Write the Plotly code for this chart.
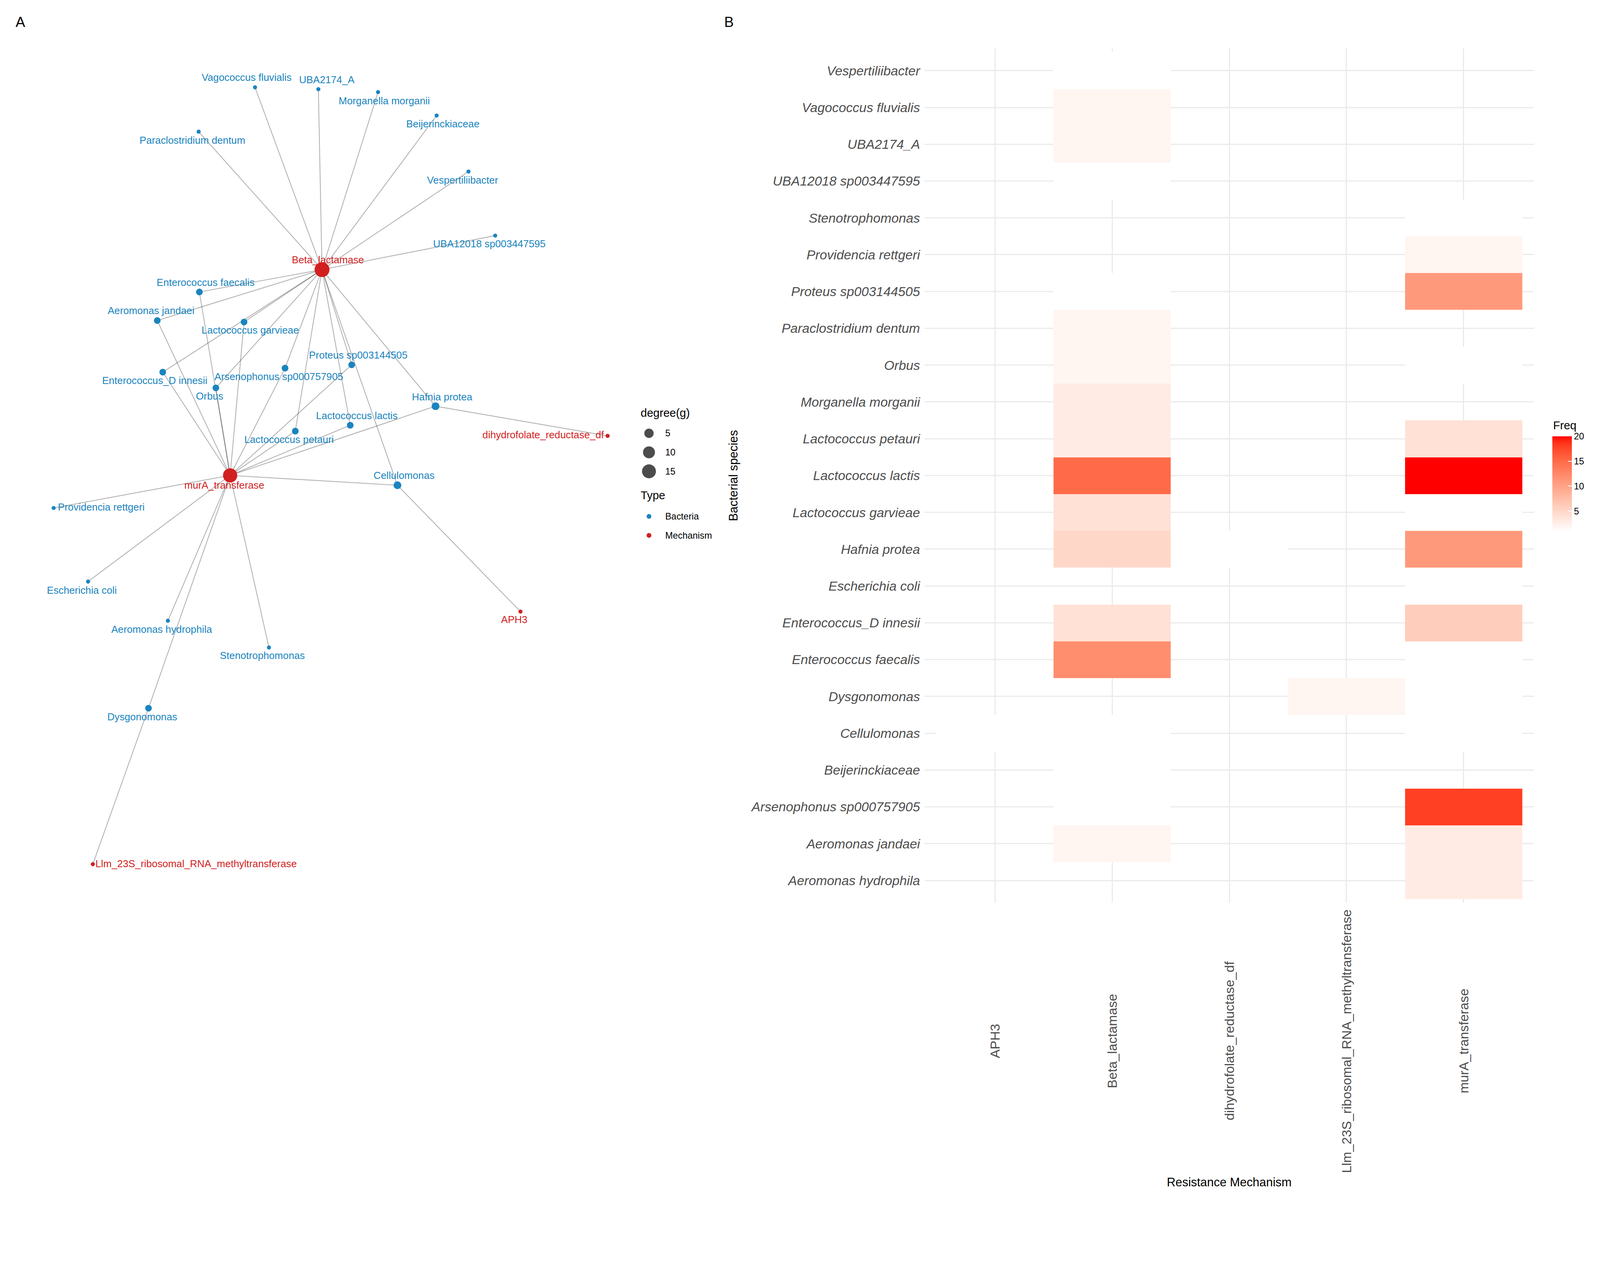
import numpy as np
import plotly.graph_objects as go

# ---------------- data ----------------
mechanisms = ["APH3", "Beta_lactamase", "dihydrofolate_reductase_df",
              "Llm_23S_ribosomal_RNA_methyltransferase", "murA_transferase"]

species = ["Aeromonas hydrophila", "Aeromonas jandaei", "Arsenophonus sp000757905",
           "Beijerinckiaceae", "Cellulomonas", "Dysgonomonas", "Enterococcus faecalis",
           "Enterococcus_D innesii", "Escherichia coli", "Hafnia protea",
           "Lactococcus garvieae", "Lactococcus lactis", "Lactococcus petauri",
           "Morganella morganii", "Orbus", "Paraclostridium dentum", "Proteus sp003144505",
           "Providencia rettgeri", "Stenotrophomonas", "UBA12018 sp003447595",
           "UBA2174_A", "Vagococcus fluvialis", "Vespertiliibacter"]

N = None
freq_aph3 = [N, N, N, N, 1, N, N, N, N, N, N, N, N, N, N, N, N, N, N, N, N, N, N]
freq_beta = [N, 2, 1, 1, 1, N, 12, 4, N, 5, 4, 15, 3, 3, 2, 2, 1, N, N, 1, 2, 2, 1]
freq_dhfr = [N, N, N, N, N, N, N, N, N, 1, N, N, N, N, N, N, N, N, N, N, N, N, N]
freq_llm = [N, N, N, N, N, 2, N, N, N, N, N, N, N, N, N, N, N, N, N, N, N, N, N]
freq_mura = [3, 3, 18, N, 1, 1, 1, 6, 1, 11, 1, 20, 4, N, 1, N, 11, 2, 1, N, N, N, N]

# network layout (layout units), same order as species / mechanisms
bact_layout_x = [450, 421, 770, 1184, 1077, 397, 536, 436, 232, 1181, 658, 948, 798,
                 1024, 581, 534, 952, 138, 726, 1344, 861, 688, 1271]
bact_layout_y = [1687, 867, 997, 307, 1317, 1926, 789, 1008, 1580, 1101, 871, 1153, 1169,
                 243, 1051, 351, 988, 1379, 1760, 635, 235, 230, 460]
bact_label_x = [433, 404, 753, 1201, 1095, 380, 553, 414, 215, 1199, 675, 966, 781,
                1041, 564, 517, 970, 268, 708, 1328, 884, 665, 1255]
bact_label_y = [1713, 843, 1023, 332, 1293, 1952, 766, 1034, 1606, 1078, 896, 1130, 1195,
                269, 1076, 377, 964, 1379, 1785, 660, 212, 206, 486]
mech_layout_x = [1413, 871, 1651, 245, 620]
mech_layout_y = [1662, 728, 1182, 2352, 1290]
mech_label_x = [1396, 887, 1475, 527, 604]
mech_label_y = [1687, 704, 1182, 2353, 1319]

legend_degrees = [5, 10, 15]
type_names = ["Bacteria", "Mechanism"]
colorbar_ticks = [5, 10, 15, 20]

# ---------------- style ----------------
W, H = 4354, 3264          # design canvas
K = 1 / 1.067              # px scale so the figure fits the viewport
FONT = "Liberation Sans"
BLUE = "#1A84BE"
RED = "#D21F1F"
TYPE_COLORS = [BLUE, RED]


def px(v):
    return v * K


def srgb_to_lin(c):
    c = c / 255.0
    return np.where(c <= 0.04045, c / 12.92, ((c + 0.055) / 1.055) ** 2.4)


def lin_to_srgb(c):
    c = np.clip(c, 0, 1)
    return np.where(c <= 0.0031308, 12.92 * c, 1.055 * c ** (1 / 2.4) - 0.055) * 255


M = np.array([[0.4124, 0.3576, 0.1805], [0.2126, 0.7152, 0.0722], [0.0193, 0.1192, 0.9505]])
WP = np.array([0.95047, 1.0, 1.08883])


def rgb_to_lab(rgb):
    xyz = M @ srgb_to_lin(np.array(rgb, float)) / WP
    f = np.where(xyz > 0.008856, np.cbrt(xyz), 7.787 * xyz + 16 / 116)
    return np.array([116 * f[1] - 16, 500 * (f[0] - f[1]), 200 * (f[1] - f[2])])


def lab_to_rgb(lab):
    L, a, b = lab
    fy = (L + 16) / 116
    fx = fy + a / 500
    fz = fy - b / 200
    f = np.array([fx, fy, fz])
    xyz = np.where(f ** 3 > 0.008856, f ** 3, (f - 16 / 116) / 7.787) * WP
    lin = np.linalg.solve(M, xyz)
    return lin_to_srgb(lin)


lab_lo = rgb_to_lab([255, 255, 255])
lab_hi = rgb_to_lab([255, 0, 0])
colorscale = []
for t in np.linspace(0, 1, 21):
    r, g, b = lab_to_rgb(lab_lo + t * (lab_hi - lab_lo))
    colorscale.append([float(t), f"rgb({int(round(r))},{int(round(g))},{int(round(b))})"])

fig = go.Figure()

# ---------------- network (panel A) ----------------
freq_cols = [freq_aph3, freq_beta, freq_dhfr, freq_llm, freq_mura]
edges = []
for j, col in enumerate(freq_cols):
    for i, v in enumerate(col):
        if v is not None:
            edges.append((i, j))

bact_deg = [sum(1 for e in edges if e[0] == i) for i in range(len(species))]
mech_deg = [sum(1 for e in edges if e[1] == j) for j in range(len(mechanisms))]
all_deg = bact_deg + mech_deg
dmin, dmax = min(all_deg), max(all_deg)


def size_px(d):
    s = 1 + 5 * np.sqrt((d - dmin) / (dmax - dmin))
    return float(px(5.92 * s + 5.2))


for i, j in edges:
    fig.add_trace(go.Scatter(
        x=[bact_layout_x[i], mech_layout_x[j]], y=[bact_layout_y[i], mech_layout_y[j]],
        mode="lines", line=dict(color="rgba(0,0,0,0.3)", width=px(2.3)),
        hoverinfo="skip", showlegend=False, xaxis="x", yaxis="y"))

fig.add_trace(go.Scatter(
    x=bact_layout_x + mech_layout_x, y=bact_layout_y + mech_layout_y, mode="markers",
    marker=dict(size=[size_px(d) for d in all_deg],
                color=[BLUE] * len(species) + [RED] * len(mechanisms),
                line=dict(width=0), opacity=1),
    text=species + mechanisms, hoverinfo="text", showlegend=False, xaxis="x", yaxis="y"))

fig.add_trace(go.Scatter(
    x=bact_label_x + mech_label_x, y=bact_label_y + mech_label_y, mode="text",
    text=species + mechanisms, textposition="middle center",
    textfont=dict(family=FONT, size=px(27.5),
                  color=[BLUE] * len(species) + [RED] * len(mechanisms)),
    hoverinfo="skip", showlegend=False, xaxis="x", yaxis="y"))

# legend of panel A
LEG_X, LEG_KEY_X, LEG_TXT_X = 1739, 1764, 1806
deg_leg_y = [1175 + 52 * k for k in range(len(legend_degrees))]
fig.add_trace(go.Scatter(
    x=[LEG_KEY_X] * len(legend_degrees), y=deg_leg_y, mode="markers",
    marker=dict(size=[size_px(d) for d in legend_degrees], color="#000000", line=dict(width=0)),
    hoverinfo="skip", showlegend=False, xaxis="x", yaxis="y"))
type_leg_y = [1402 + 52 * k for k in range(len(type_names))]
fig.add_trace(go.Scatter(
    x=[LEG_KEY_X] * len(type_names), y=type_leg_y, mode="markers",
    marker=dict(size=px(13), color=TYPE_COLORS, line=dict(width=0)),
    hoverinfo="skip", showlegend=False, xaxis="x", yaxis="y"))

annotations = []
annotations.append(dict(x=LEG_X, y=1119, xref="x", yref="y", text="degree(g)", showarrow=False,
                        xanchor="left", yanchor="middle",
                        font=dict(family=FONT, size=px(31), color="black")))
annotations.append(dict(x=LEG_X, y=1344, xref="x", yref="y", text="Type", showarrow=False,
                        xanchor="left", yanchor="middle",
                        font=dict(family=FONT, size=px(31), color="black")))
for d, yy in zip(legend_degrees, deg_leg_y):
    annotations.append(dict(x=LEG_TXT_X, y=yy, xref="x", yref="y", text=str(d), showarrow=False,
                            xanchor="left", yanchor="middle",
                            font=dict(family=FONT, size=px(25), color="black")))
for t, yy in zip(type_names, type_leg_y):
    annotations.append(dict(x=LEG_TXT_X, y=yy, xref="x", yref="y", text=t, showarrow=False,
                            xanchor="left", yanchor="middle",
                            font=dict(family=FONT, size=px(25), color="black")))

# ---------------- heatmap (panel B) ----------------
z = [[freq_cols[j][i] for j in range(len(mechanisms))] for i in range(len(species))]
vals = [v for col in freq_cols for v in col if v is not None]
CB_X, CB_TOP, CB_BOT = 4231, 1183, 1442
fig.add_trace(go.Heatmap(
    x=mechanisms, y=species, z=z, zmin=min(vals), zmax=max(vals),
    colorscale=colorscale, hoverongaps=False, xgap=0, ygap=0,
    xaxis="x2", yaxis="y2",
    colorbar=dict(
        x=CB_X / W, xanchor="left", y=1 - (CB_TOP + CB_BOT) / 2 / H, yanchor="middle",
        thickness=px(53), len=(CB_BOT - CB_TOP) / H, lenmode="fraction", outlinewidth=0,
        xpad=0, ypad=0,
        tickvals=colorbar_ticks, ticks="inside", ticklen=px(10), tickwidth=px(2),
        tickcolor="white",
        tickfont=dict(family=FONT, size=px(25), color="black"))))
annotations.append(dict(x=CB_X / W, y=1 - 1153 / H, xref="paper", yref="paper", text="Freq",
                        showarrow=False, xanchor="left", yanchor="middle",
                        font=dict(family=FONT, size=px(31), color="black")))

PX0, PX1, PY0, PY1 = 2517, 4181, 124, 2457
for m in mechanisms:
    annotations.append(dict(x=m, y=1 - 2835 / H, xref="x2", yref="paper", text=m, showarrow=False,
                            textangle=-90, xanchor="center", yanchor="middle",
                            font=dict(family=FONT, size=px(36), color="#4D4D4D")))
annotations.append(dict(x=(PX0 + PX1) / 2 / W, y=1 - 3221 / H, xref="paper", yref="paper",
                        text="Resistance Mechanism", showarrow=False, xanchor="center",
                        yanchor="middle", font=dict(family=FONT, size=px(33), color="black")))
annotations.append(dict(x=1995 / W, y=1 - (PY0 + PY1) / 2 / H, xref="paper", yref="paper",
                        text="Bacterial species", showarrow=False, textangle=-90,
                        xanchor="center", yanchor="middle",
                        font=dict(family=FONT, size=px(33), color="black")))
annotations.append(dict(x=47 / W, y=1 - 52 / H, xref="paper", yref="paper", text="A",
                        showarrow=False, xanchor="center", yanchor="middle",
                        font=dict(family=FONT, size=px(39), color="black")))
annotations.append(dict(x=1982 / W, y=1 - 52 / H, xref="paper", yref="paper", text="B",
                        showarrow=False, xanchor="center", yanchor="middle",
                        font=dict(family=FONT, size=px(39), color="black")))

NET_DOM = 0.45
fig.update_layout(
    width=round(W * K), height=round(H * K), autosize=False,
    margin=dict(l=0, r=0, t=0, b=0),
    paper_bgcolor="white", plot_bgcolor="white",
    font=dict(family=FONT),
    showlegend=False,
    xaxis=dict(domain=[0, NET_DOM], range=[0, NET_DOM * W], visible=False, fixedrange=True),
    yaxis=dict(domain=[0, 1], range=[H, 0], visible=False, fixedrange=True),
    xaxis2=dict(domain=[PX0 / W, PX1 / W], anchor="y2", type="category",
                categoryorder="array", categoryarray=mechanisms,
                range=[-0.6, len(mechanisms) - 0.4], showgrid=True, gridcolor="#EBEBEB",
                gridwidth=px(2.7), zeroline=False, showline=False, ticks="",
                showticklabels=False),
    yaxis2=dict(domain=[1 - PY1 / H, 1 - PY0 / H], anchor="x2", type="category",
                categoryorder="array", categoryarray=species,
                range=[-0.6, len(species) - 0.4], showgrid=True, gridcolor="#EBEBEB",
                gridwidth=px(2.7), zeroline=False, showline=False, ticks="",
                ticklabelstandoff=int(round(px(12))),
                tickfont=dict(family=FONT, size=px(36), color="#4D4D4D", style="italic")),
    annotations=annotations,
)

fig.write_html("out.html")
